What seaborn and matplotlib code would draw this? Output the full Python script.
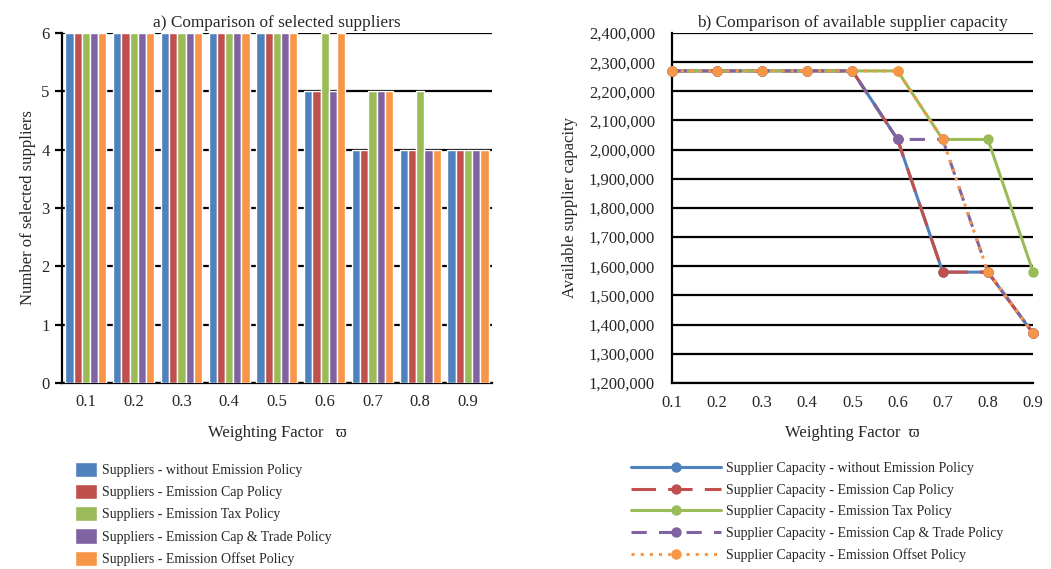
import numpy as np
import pandas as pd
import matplotlib
matplotlib.use("Agg")
import matplotlib.pyplot as plt
import matplotlib.ticker as mticker
import seaborn as sns

# ---- data ----
weights = ["0.1", "0.2", "0.3", "0.4", "0.5", "0.6", "0.7", "0.8", "0.9"]
weights_num = [0.1, 0.2, 0.3, 0.4, 0.5, 0.6, 0.7, 0.8, 0.9]

policies = ["without Emission Policy", "Emission Cap Policy", "Emission Tax Policy",
            "Emission Cap & Trade Policy", "Emission Offset Policy"]

sup_without = [6, 6, 6, 6, 6, 5, 4, 4, 4]
sup_cap = [6, 6, 6, 6, 6, 5, 4, 4, 4]
sup_tax = [6, 6, 6, 6, 6, 6, 5, 5, 4]
sup_trade = [6, 6, 6, 6, 6, 5, 5, 4, 4]
sup_offset = [6, 6, 6, 6, 6, 6, 5, 4, 4]

cap_without = [2270000, 2270000, 2270000, 2270000, 2270000, 2035000, 1580000, 1580000, 1370000]
cap_cap = [2270000, 2270000, 2270000, 2270000, 2270000, 2035000, 1580000, 1580000, 1370000]
cap_tax = [2270000, 2270000, 2270000, 2270000, 2270000, 2270000, 2035000, 2035000, 1580000]
cap_trade = [2270000, 2270000, 2270000, 2270000, 2270000, 2035000, 2035000, 1580000, 1370000]
cap_offset = [2270000, 2270000, 2270000, 2270000, 2270000, 2270000, 2035000, 1580000, 1370000]

colors = ["#4F81BD", "#C0504D", "#9BBB59", "#8064A2", "#F79646"]

sns.set_theme(style="white")
plt.rcParams["font.family"] = ["Liberation Serif", "DejaVu Serif"]

fig = plt.figure(figsize=(10.51, 5.69), dpi=100)
ax1 = fig.add_axes([0.059, 0.327, 0.409, 0.615])
ax2 = fig.add_axes([0.639, 0.327, 0.344, 0.615])

# ---- a) bars ----
sup_lists = [sup_without, sup_cap, sup_tax, sup_trade, sup_offset]
rows = []
for p, vals in zip(policies, sup_lists):
    for w, v in zip(weights, vals):
        rows.append({"weight": w, "policy": "Suppliers - " + p, "n": v})
df_bar = pd.DataFrame(rows)

sns.barplot(data=df_bar, x="weight", y="n", hue="policy", palette=colors,
            saturation=1, width=0.86, gap=0, ax=ax1, zorder=3)
ax1.set_ylim(0, 6)
ax1.set_xlim(-0.5, 8.5)
ax1.set_yticks(range(0, 7))
ax1.yaxis.grid(True, color="black", linewidth=1.6, zorder=0)
ax1.set_axisbelow(True)
for s in ["top", "right"]:
    ax1.spines[s].set_visible(False)
for s in ["left", "bottom"]:
    ax1.spines[s].set_color("black")
    ax1.spines[s].set_linewidth(1.6)
ax1.tick_params(axis="y", left=True, length=5, width=1.6, color="black", labelsize=12, pad=4)
ax1.tick_params(axis="x", bottom=False, labelsize=12, pad=2)
ax1.set_title("a) Comparison of selected suppliers", fontsize=12.4, pad=4)
ax1.set_ylabel("Number of selected suppliers", fontsize=12)
ax1.set_xlabel("Weighting Factor   \u03d6", fontsize=12, labelpad=11)
sns.move_legend(ax1, "upper left", bbox_to_anchor=(0.0, -0.19), frameon=False, title=None,
                fontsize=10, handlelength=1.6, handleheight=1.3, labelspacing=0.5,
                handletextpad=0.4)

# ---- b) lines ----
cap_lists = [cap_without, cap_cap, cap_tax, cap_trade, cap_offset]
styles = ["-", (0, (8, 4)), "-", (0, (5, 4)), (0, (1, 2))]
for p, vals, c, ls in zip(policies, cap_lists, colors, styles):
    sns.lineplot(x=weights_num, y=vals, ax=ax2, color=c, linestyle=ls, linewidth=2.2,
                 marker="o", markersize=7.5, markeredgewidth=0, clip_on=False,
                 label="Supplier Capacity - " + p, zorder=3)

ax2.set_xlim(0.1, 0.9)
ax2.set_ylim(1200000, 2400000)
ax2.set_xticks(weights_num)
ax2.set_xticklabels(weights)
ax2.set_yticks(np.arange(1200000, 2400001, 100000))
ax2.yaxis.set_major_formatter(mticker.FuncFormatter(lambda v, pos: f"{int(v):,}"))
ax2.yaxis.grid(True, color="black", linewidth=1.6, zorder=0)
ax2.set_axisbelow(True)
for s in ["top", "right"]:
    ax2.spines[s].set_visible(False)
for s in ["left", "bottom"]:
    ax2.spines[s].set_color("black")
    ax2.spines[s].set_linewidth(1.6)
ax2.tick_params(axis="y", left=False, labelsize=12, pad=6)
ax2.tick_params(axis="x", bottom=False, labelsize=12, pad=3)
ax2.set_title("b) Comparison of available supplier capacity", fontsize=12.4, pad=4)
ax2.set_ylabel("Available supplier capacity", fontsize=12, labelpad=8)
ax2.set_xlabel("Weighting Factor  \u03d6", fontsize=12, labelpad=10)
ax2.legend(loc="upper left", bbox_to_anchor=(-0.148, -0.19), frameon=False, fontsize=10,
           handlelength=6.5, labelspacing=0.62, handletextpad=0.4)

fig.savefig("out.png", dpi=100)
